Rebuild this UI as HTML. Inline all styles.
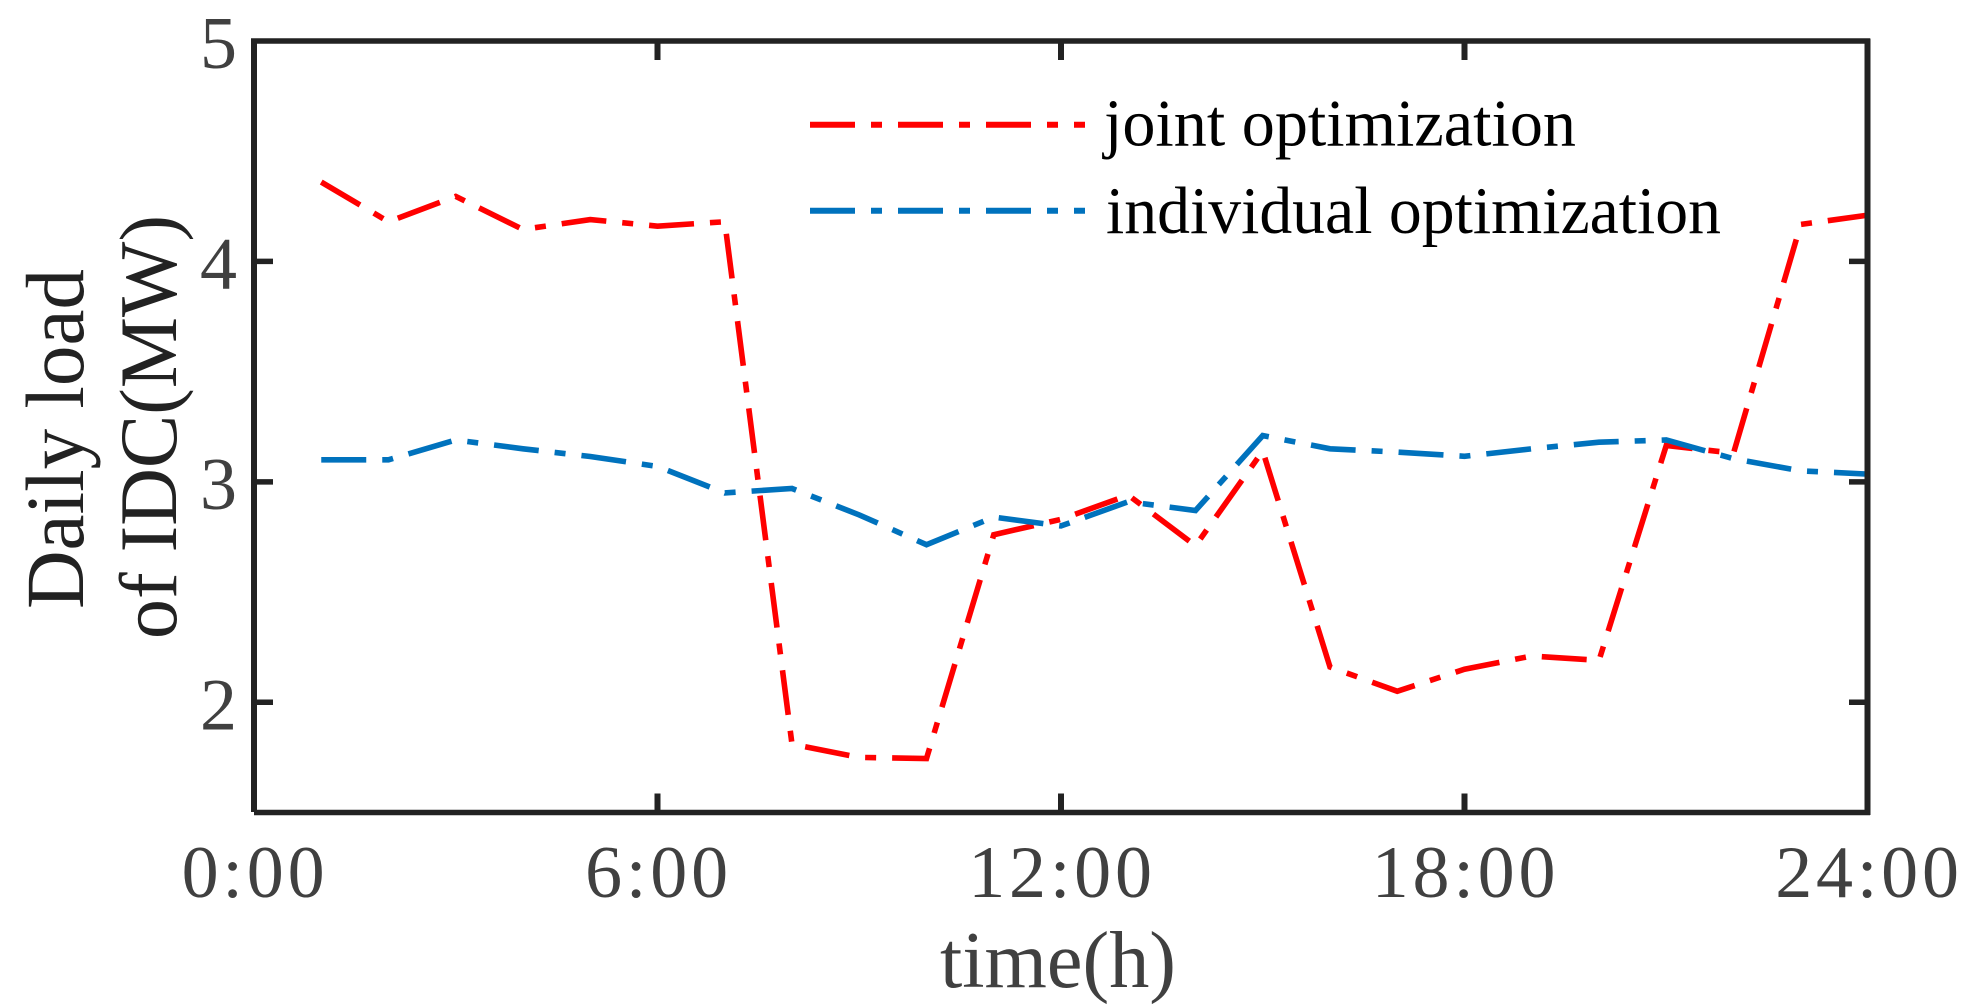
<!DOCTYPE html>
<html lang="en">
<head>
<meta charset="utf-8">
<title>Daily load of IDC</title>
<style>
  html, body { margin: 0; padding: 0; background: #fff; }
  svg { display: block; }
  text { font-family: "Liberation Serif", "Times New Roman", serif; }
</style>
</head>
<body>
<svg id="chart" xmlns="http://www.w3.org/2000/svg" width="1968" height="1008" viewBox="0 0 1968 1008">
  <rect x="0" y="0" width="1968" height="1008" fill="#ffffff"/>
  <g id="series"></g>
  <g id="ticks"></g>
  <g stroke="#222222">
    <line x1="254" y1="38.5" x2="254" y2="812" stroke-width="6"/>
    <line x1="1867.5" y1="38.5" x2="1867.5" y2="815" stroke-width="6"/>
    <line x1="251" y1="41" x2="1870" y2="41" stroke-width="5.5"/>
    <line x1="254" y1="812.5" x2="1870" y2="812.5" stroke-width="5.5"/>
  </g>
  <g id="tick-labels"></g>

  <text x="940" y="987" font-size="80" fill="#404040" textLength="236" lengthAdjust="spacingAndGlyphs">time(h)</text>
  <text transform="translate(83,609) rotate(-90)" font-size="83" fill="#222222" textLength="340" lengthAdjust="spacingAndGlyphs">Daily load</text>
  <text transform="translate(176,639) rotate(-90)" font-size="82" fill="#222222" textLength="424" lengthAdjust="spacingAndGlyphs">of IDC(MW)</text>

  <g>
    <line x1="810" y1="124.7" x2="1085" y2="124.7" stroke="#ff0000" stroke-width="6" stroke-dasharray="45 16 11 16"/>
    <text x="1104" y="145.7" font-size="67" fill="#000000" textLength="472" lengthAdjust="spacingAndGlyphs">joint optimization</text>
    <line x1="810" y1="210.7" x2="1085" y2="210.7" stroke="#0072bd" stroke-width="6" stroke-dasharray="45 16 11 16"/>
    <text x="1106" y="233" font-size="67" fill="#000000" textLength="615" lengthAdjust="spacingAndGlyphs">individual optimization</text>
  </g>
</svg>
<script>
const hours = [1,2,3,4,5,6,7,8,9,10,11,12,13,14,15,16,17,18,19,20,21,22,23,24];
const jointOptimization = [4.36,4.18,4.295,4.145,4.19,4.16,4.18,1.81,1.75,1.745,2.76,2.83,2.94,2.71,3.14,2.16,2.05,2.15,2.21,2.19,3.165,3.13,4.168,4.21];
const individualOptimization = [3.10,3.10,3.19,3.15,3.115,3.07,2.95,2.97,2.85,2.715,2.84,2.80,2.91,2.87,3.21,3.15,3.135,3.116,3.15,3.18,3.19,3.105,3.05,3.035];
const xTickValues = [0,6,12,18,24];
const xTickLabels = ['0:00','6:00','12:00','18:00','24:00'];
const yTickValues = [2,3,4,5];
const yTickLabels = ['2','3','4','5'];

const NS = 'http://www.w3.org/2000/svg';
const plot = { left: 254, right: 1868, top: 41, bottom: 812.5 };
const xDomain = [0, 24];
const yDomain = [1.5, 5];
function xScale(v) {
  return plot.left + (v - xDomain[0]) / (xDomain[1] - xDomain[0]) * (plot.right - plot.left);
}
function yScale(v) {
  return plot.bottom - (v - yDomain[0]) / (yDomain[1] - yDomain[0]) * (plot.bottom - plot.top);
}
function make(tag, attrs, parent) {
  const el = document.createElementNS(NS, tag);
  for (const k in attrs) el.setAttribute(k, attrs[k]);
  parent.appendChild(el);
  return el;
}

const seriesGroup = document.getElementById('series');
const ticksGroup = document.getElementById('ticks');
const labelsGroup = document.getElementById('tick-labels');

function pointsFor(values) {
  return values.map((v, i) => xScale(hours[i]).toFixed(2) + ',' + yScale(v).toFixed(2)).join(' ');
}

const jointLine = make('polyline', { points: pointsFor(jointOptimization), fill: 'none', stroke: '#ff0000', 'stroke-width': 5.6, 'stroke-dasharray': '45 16 11 16', 'stroke-linejoin': 'miter' }, seriesGroup);



const individualLine = make('polyline', { points: pointsFor(individualOptimization), fill: 'none', stroke: '#0072bd', 'stroke-width': 5.6, 'stroke-dasharray': '45 16 11 16', 'stroke-linejoin': 'miter' }, seriesGroup);



xTickValues.forEach((v, i) => {
  const x = xScale(v);
  if (v > xDomain[0] && v < xDomain[1]) {
    const top = make('line', { x1: x, x2: x, y1: plot.top, y2: plot.top + 19, stroke: '#222222', 'stroke-width': 6 }, ticksGroup);
    
    
    const bottom = make('line', { x1: x, x2: x, y1: plot.bottom, y2: plot.bottom - 19, stroke: '#222222', 'stroke-width': 6 }, ticksGroup);
    
    
  }
  const label = make('text', { x: x + 1, y: 897, 'font-size': 74, fill: '#404040', 'text-anchor': 'middle', 'letter-spacing': 3.8 }, labelsGroup);
  label.textContent = xTickLabels[i];
  
  
});

yTickValues.forEach((v, i) => {
  const y = yScale(v);
  if (v < yDomain[1]) {
    const left = make('line', { x1: plot.left, x2: plot.left + 19, y1: y, y2: y, stroke: '#222222', 'stroke-width': 5.5 }, ticksGroup);
    
    
    const right = make('line', { x1: plot.right, x2: plot.right - 19, y1: y, y2: y, stroke: '#222222', 'stroke-width': 5.5 }, ticksGroup);
    
    
  }
  const label = make('text', { x: 237, y: y + 27, 'font-size': 74, fill: '#404040', 'text-anchor': 'end' }, labelsGroup);
  label.textContent = yTickLabels[i];
  
  
});
</script>
</body>
</html>
